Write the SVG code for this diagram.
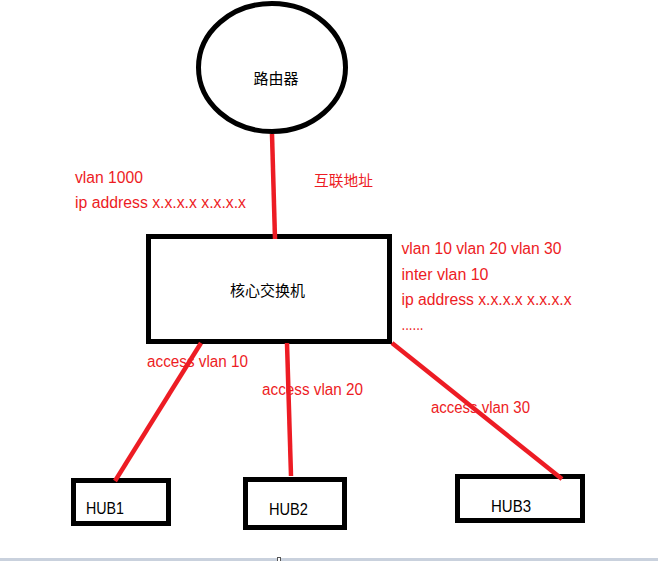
<svg xmlns="http://www.w3.org/2000/svg" width="658" height="561" viewBox="0 0 658 561">
<style>
.node{fill:#fff;stroke:#000;stroke-width:5}
.cjk{font-family:"Noto Sans CJK SC","Liberation Sans",sans-serif;font-size:15px;fill:#000}
.hub{font-family:"Liberation Sans","Noto Sans",sans-serif;font-size:16px;fill:#000}
.lbl{font-family:"Liberation Sans","Noto Sans CJK SC",sans-serif;font-size:16px;fill:#ED1C24}
.lblc{font-family:"Noto Sans CJK SC",sans-serif;font-size:15px;fill:#ED1C24}
.conn{stroke:#ED1C24;stroke-width:4.5;fill:none}
</style>
<rect x="0" y="0" width="658" height="561" fill="#fff"/>
<g id="router">
<ellipse class="node" cx="272" cy="67.5" rx="73.5" ry="64"/>
<text class="cjk" x="276" y="84" text-anchor="middle">路由器</text>
</g>
<g id="core-switch">
<rect class="node" x="148.5" y="236.5" width="241" height="105"/>
<text class="cjk" x="267.5" y="296" text-anchor="middle">核心交换机</text>
</g>
<g id="hub1">
<rect class="node" x="73.5" y="480.5" width="95" height="43"/>
<text class="hub" x="86" y="514" textLength="38" lengthAdjust="spacingAndGlyphs">HUB1</text>
</g>
<g id="hub2">
<rect class="node" x="245.5" y="479.5" width="99" height="48"/>
<text class="hub" x="269" y="515" textLength="39" lengthAdjust="spacingAndGlyphs">HUB2</text>
</g>
<g id="hub3">
<rect class="node" x="457.5" y="476.5" width="125" height="44"/>
<text class="hub" x="491" y="512" textLength="40" lengthAdjust="spacingAndGlyphs">HUB3</text>
</g>
<g id="labels">
<text class="lbl" x="75" y="183" textLength="68" lengthAdjust="spacingAndGlyphs">vlan 1000</text>
<text class="lbl" x="75" y="208" textLength="171" lengthAdjust="spacingAndGlyphs">ip address x.x.x.x x.x.x.x</text>
<text class="lblc" x="314" y="186" textLength="59" lengthAdjust="spacingAndGlyphs">互联地址</text>
<text class="lbl" x="401.5" y="254" textLength="160" lengthAdjust="spacingAndGlyphs">vlan 10 vlan 20 vlan 30</text>
<text class="lbl" x="401.5" y="280" textLength="87" lengthAdjust="spacingAndGlyphs">inter vlan 10</text>
<text class="lbl" x="401.5" y="305" textLength="170" lengthAdjust="spacingAndGlyphs">ip address x.x.x.x x.x.x.x</text>
<text class="lbl" x="401.5" y="330" textLength="22" lengthAdjust="spacingAndGlyphs">......</text>
<text class="lbl" x="147" y="367" textLength="101" lengthAdjust="spacingAndGlyphs">access vlan 10</text>
<text class="lbl" x="262" y="395" textLength="101" lengthAdjust="spacingAndGlyphs">access vlan 20</text>
<text class="lbl" x="431" y="413" textLength="99" lengthAdjust="spacingAndGlyphs">access vlan 30</text>
</g>
<g id="connectors">
<line class="conn" x1="272" y1="134" x2="275" y2="239"/>
<line class="conn" x1="201" y1="343" x2="115" y2="481"/>
<line class="conn" x1="287" y1="343" x2="291" y2="476"/>
<line class="conn" x1="392" y1="343" x2="562" y2="479"/>
</g>
<rect x="0" y="558" width="658" height="3" fill="#C9D1DD"/>
<rect x="277.5" y="557.5" width="3" height="4" fill="#fff" stroke="#555" stroke-width="1"/>
</svg>
